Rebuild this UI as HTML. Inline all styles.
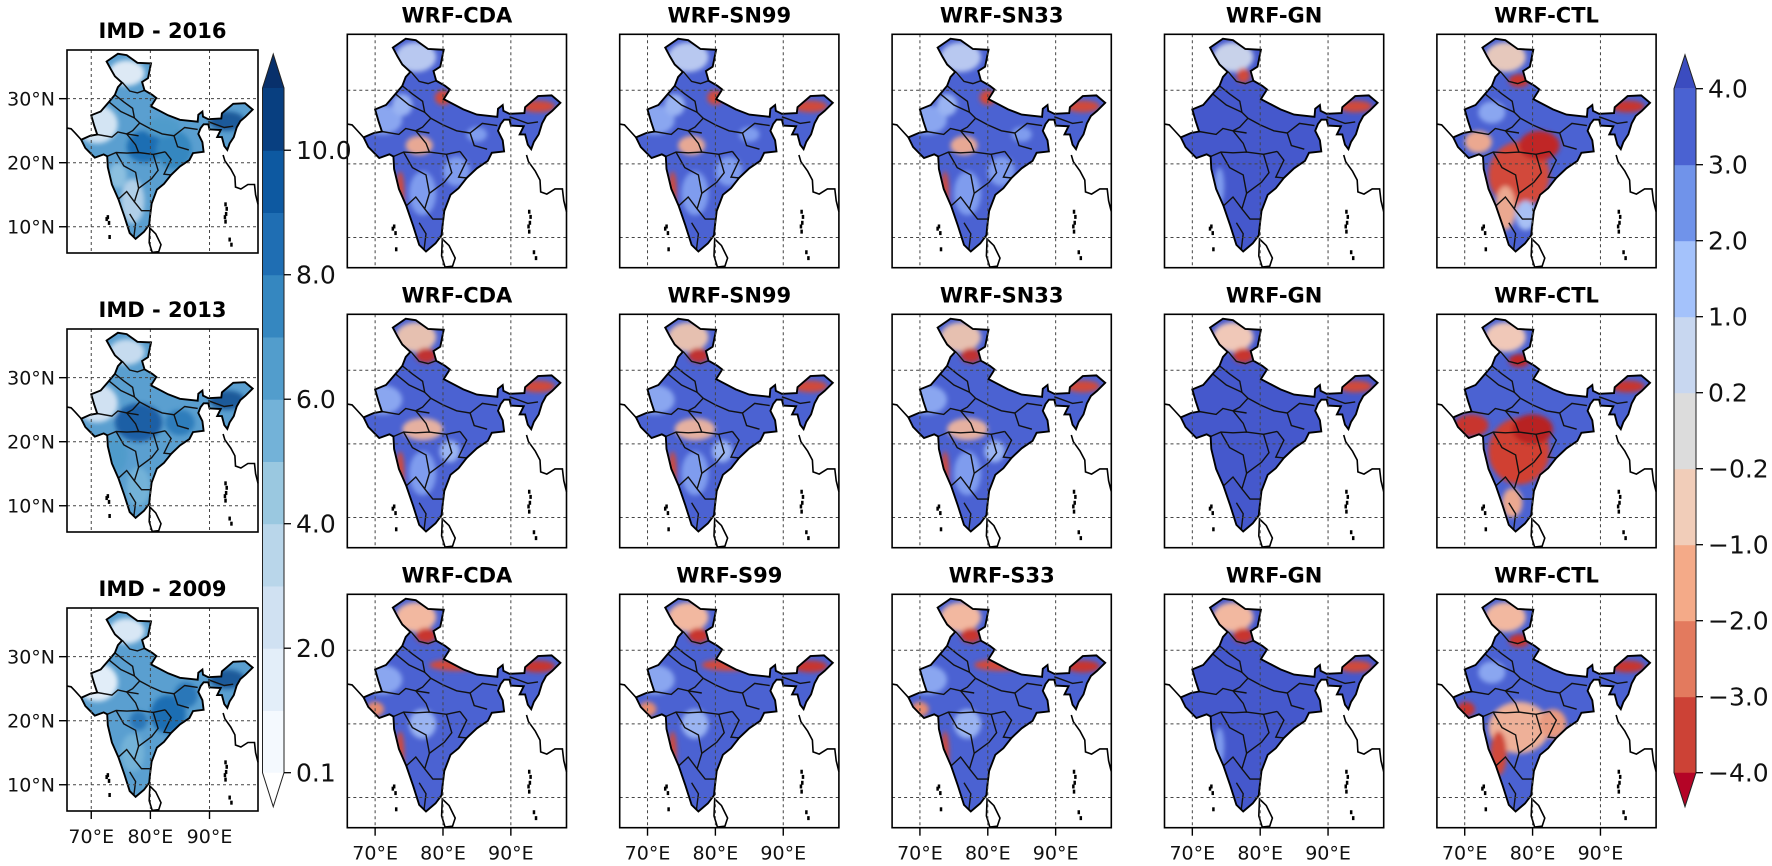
<!DOCTYPE html>
<html><head><meta charset="utf-8">
<style>
html,body{margin:0;padding:0;background:#fff;}
svg{display:block;font-family:"DejaVu Sans","Liberation Sans",sans-serif;}
</style></head>
<body>
<svg id="fig" width="1772" height="866" viewBox="0 0 1772 866" xmlns="http://www.w3.org/2000/svg">
<defs>
<filter id="soft" x="-20%" y="-20%" width="140%" height="140%"><feGaussianBlur stdDeviation="2.5"/></filter>
</defs>
</svg>
<script>
// ---------- data ----------
const imdTitles = ["IMD - 2016", "IMD - 2013", "IMD - 2009"];
const wrfTitles = [
  ["WRF-CDA","WRF-SN99","WRF-SN33","WRF-GN","WRF-CTL"],
  ["WRF-CDA","WRF-SN99","WRF-SN33","WRF-GN","WRF-CTL"],
  ["WRF-CDA","WRF-S99","WRF-S33","WRF-GN","WRF-CTL"]
];
const lonTicks = [70, 80, 90];
const latTicks = [30, 20, 10];
const blueLevels = [0.1,1,2,3,4,5,6,7,8,9,10,11];
const blueColors = ["#f4f9fe","#e3eef9","#d0e1f2","#b9d6ea","#9ac8e0","#73b2d8","#529dcc","#3587c0","#1f6eb3","#0d59a1","#083f80"];
const blueTickVals = [0.1,2,4,6,8,10];
const blueTickLabels = ["0.1","2.0","4.0","6.0","8.0","10.0"];
const divLevels = [-4,-3,-2,-1,-0.2,0.2,1,2,3,4];
const divColors = ["#cc4236","#e37a5e","#f4aa88","#f1cdb9","#dcdcdc","#c8d7f0","#a4c2fb","#7093ea","#4a62d2"];
const divTickLabels = ["\u22124.0","\u22123.0","\u22122.0","\u22121.0","\u22120.2","0.2","1.0","2.0","3.0","4.0"];

const india = [[72.6,35.8],[74.5,37.0],[76,36.8],[77.8,35.6],[80.1,35.5],[79.6,33.2],[78.6,32.6],[79.0,31.3],[80.3,30.6],[81.0,30.1],[80.1,28.8],[83,27.4],[85,26.7],[88,26.4],[88.1,27.5],[88.8,28.0],[88.9,27.2],[89.8,26.8],[92,26.9],[92.1,27.7],[94,29.2],[96,29.3],[97.3,28.3],[96.1,27.2],[95.2,26.5],[94.6,25.5],[94.1,24.0],[93.4,23.0],[93.0,22.0],[92.5,22.6],[92.1,24.0],[91.3,24.0],[91.9,25.1],[90,25.2],[89.8,26.0],[89,26.0],[88.5,25.4],[88.1,24.5],[88.8,23.2],[89,21.7],[87.2,21.5],[86.6,20.4],[85,19.4],[83.5,18.1],[82.3,16.7],[81.1,15.8],[80.2,13.6],[79.9,11.3],[79.8,10.3],[78.9,9.2],[77.5,8.1],[76.5,9.0],[75.6,11.6],[74.6,14.3],[73.5,16.6],[72.8,19.3],[72.7,21.0],[72.1,21.3],[70.6,20.8],[69.0,22.3],[68.3,23.6],[69.8,24.2],[71.0,24.4],[70.5,25.8],[70.0,27.4],[71.6,28.0],[73.0,29.5],[74.0,30.6],[74.5,31.8],[75.2,32.5],[74.0,33.5],[73.3,34.6]];
const pakCoast = [[68.3,23.6],[67.3,24.6],[66.6,25.3],[65.9,25.4]];
const myanmar = [[92.3,21.2],[92.6,20.3],[93.6,19.0],[94.3,17.8],[94.4,16.2],[95.3,15.9],[96.5,16.6],[97.6,16.6],[97.8,15.0],[98.2,13.5]];
const srilanka = [[79.9,9.8],[80.9,8.9],[81.8,7.2],[81.4,6.1],[80.3,6.0],[79.8,7.5],[79.9,9.8]];
const islands = [[92.7,13.5],[92.9,12.8],[92.8,12.0],[92.6,11.5],[92.7,10.8],[93.4,8.0],[93.7,7.2],[72.6,11.2],[73.0,10.6],[72.8,11.5],[73.1,8.4]];
const states = [
 [[75.3,32.5],[76.5,31.2],[77.8,30.9],[79.0,31.3]],
 [[74.0,30.6],[75.5,29.5],[77.0,28.5],[77.3,27.0],[78.2,26.2]],
 [[71.0,24.4],[73.5,24.0],[74.5,24.8],[76.0,24.5],[78.0,24.2]],
 [[72.7,21.0],[74.2,21.6],[76.0,21.5],[78.0,21.6],[80.5,21.3],[82.5,21.7]],
 [[78.2,26.2],[80.0,25.3],[82.0,24.5],[84.0,24.2],[84.6,22.5],[86.5,22.0]],
 [[80.5,21.3],[81.3,18.8],[80.2,17.5],[78.0,16.0],[77.3,13.9],[78.5,12.5],[79.9,12.5]],
 [[74.6,14.3],[76.0,15.5],[77.3,13.9]],
 [[76.5,12.0],[77.5,10.5],[77.2,8.3]],
 [[84.0,24.2],[85.8,25.5],[88.0,25.2]],
 [[89.8,26.4],[91,26.0],[92.5,25.5],[94.0,25.7]],
 [[74.2,21.6],[75.5,19.5],[77.5,18.5],[78.0,16.0]],
 [[82.5,21.7],[83.5,20.5],[82.3,18.2],[83.5,18.1]],
 [[76.0,24.5],[77.5,22.8],[78.0,21.6]],
 [[78.2,26.2],[77.0,25.0],[76.0,24.5]],
 [[73.0,29.5],[75.0,28.0],[77.3,27.0]]
];
// colour patches per panel type: [lon, lat, rx(deg), ry(deg), colour]
const patchesIMD = [
 [[71,26,3.5,3,"#d3e4f3"],[76,34,3,2,"#dde9f5"],[77,14,2,3.5,"#b0cfe8"],[79,22.5,3,2.5,"#1f6eb3"],[84,22,3,3,"#3587c0"],[93,26.5,3,1.5,"#1f5a9a"],[82,25.5,3,1.5,"#4f9bcb"],[74.5,18,1.5,2,"#8cc0e0"]],
 [[71,26,3.5,3,"#d0e1f2"],[78,23,4,3,"#1a5fa5"],[74,18,2,3,"#4f9bcb"],[93,26.5,3,1.5,"#1f5a9a"],[76,34,3,2,"#c6dbef"],[78,13,2,3,"#73b2d8"],[85,23,2.5,2,"#2e7dbb"]],
 [[71,26,3.5,3,"#e1edf8"],[76,34,3,2,"#d8e7f5"],[83,21,3,3,"#1f6eb3"],[86,24,2,2,"#2a77b8"],[93,26.5,3,1.5,"#1f5a9a"],[77,15,2,3,"#73b2d8"],[78,20,1.5,1.5,"#2a77b8"]]
];
const patchesWRF = [
 [[76,34.5,3,2,"#b8c8f0"],[71,26,3,2,"#8aa6f0"],[76.5,22.5,2,1.3,"#e7a894"],[77,16,2,3,"#7f9cee"],[73.7,16,0.6,3,"#d04a3a"],[82,19,2,2,"#7f9cee"],[80,29,1.2,1,"#d04a3a"],[94,27.8,2.5,0.8,"#d04a3a"],[74,28,1.5,1.5,"#9ab4f2"],[85,24,1.5,1,"#7f9cee"]],
 [[76,34.5,3,2,"#e6c0b0"],[77.5,32,1.5,1,"#c03030"],[71,26,3,2,"#8aa6f0"],[77,22,3,1.5,"#e5b0a0"],[77,16,2,3,"#7f9cee"],[73.7,16,0.6,3,"#d04a3a"],[94,27.8,2.5,0.8,"#d04a3a"],[81,19,1.5,1.5,"#9ab4f2"]],
 [[76,34.5,3,2,"#f2b8a0"],[77.5,32,1.5,1,"#c8342e"],[82,28,4,0.8,"#d24a3a"],[71,26,3,2,"#8aa6f0"],[70,22,1.3,1,"#e58a70"],[77,20,2,2,"#9ab4f2"],[73.7,16,0.6,3,"#d04a3a"],[94,27.8,2.5,0.8,"#c8342e"]]
];
const patchesGN = [
 [[76,34.5,3,2,"#c8d2ea"],[77.5,32,1,1,"#d04a3a"],[94,27.8,2.5,0.8,"#d04a3a"],[74,17,0.7,2.5,"#7f9cee"]],
 [[76,34.5,3,2,"#f0c8b8"],[77.5,32,1.5,1,"#c8342e"],[94,27.8,2.5,0.8,"#d04a3a"]],
 [[76,34.5,3,2,"#f2b8a0"],[77.5,32,1.5,1,"#c8342e"],[94,27.8,2.5,0.8,"#d04a3a"],[74,17,0.7,2.5,"#7f9cee"]]
];
const patchesCTL = [
 [[76,34.5,3,2,"#e6c8bc"],[78,31.3,1.5,0.9,"#c8342e"],[78,18.5,4.5,4.5,"#d24a3a"],[81,22.5,3,2,"#c02828"],[76,14,1.5,3,"#eba890"],[79,13,1.5,2,"#a8c0f4"],[72,23,2,1.5,"#eba890"],[94,27.8,2.5,0.8,"#c8342e"],[74,27,2,1.5,"#8aa6f0"]],
 [[76,34.5,3,2,"#f0c8b8"],[78,31.3,1.5,0.9,"#c02828"],[78,19,4.5,4.5,"#d04030"],[80,22,3,2,"#b82222"],[71,22.5,2.5,1.5,"#c8342e"],[77,12,1.5,2,"#eba890"],[94,27.8,2.5,0.8,"#c8342e"]],
 [[76,34.5,3,2,"#f2b8a0"],[78,31.3,1.5,0.9,"#c8342e"],[78,19.5,4.5,3.5,"#eeb098"],[75,16,1.2,3,"#d04a3a"],[70.2,22,1.3,1,"#c8342e"],[83,20,2,2,"#e89a80"],[94,27.8,2.5,0.8,"#c8342e"],[74,27,2,1.5,"#8aa6f0"]]
];

// ---------- geometry ----------
const LON0=65.9, LON1=98.2, LAT0=5.9, LAT1=37.6;
const svg=document.getElementById('fig');
const NS='http://www.w3.org/2000/svg';
function el(tag, attrs, parent){const e=document.createElementNS(NS,tag);for(const k in attrs)e.setAttribute(k,attrs[k]);(parent||svg).appendChild(e);return e;}
function mkScale(px){return {x:lon=>px.x+(lon-LON0)/(LON1-LON0)*px.w, y:lat=>px.y+(LAT1-lat)/(LAT1-LAT0)*px.h};}
function pathOf(pts,s,close){return pts.map((p,i)=>(i?'L':'M')+s.x(p[0]).toFixed(1)+','+s.y(p[1]).toFixed(1)).join('')+(close?'Z':'');}
let clipId=0;

function drawPanel(px, base, patches, title, showLat, showLon){
  const s=mkScale(px);
  const g=el('g',{});
  
  
  const t=el('text',{x:px.x+px.w/2,y:px.y-12,'text-anchor':'middle','font-size':'21','font-weight':'bold',fill:'#000'},g);
  t.textContent=title;
  
  
  const cid='c'+(clipId++);
  const cp=el('clipPath',{id:cid},svg.querySelector('defs'));
  el('path',{d:pathOf(india,s,true)},cp);
  const land=el('g',{'clip-path':'url(#'+cid+')'},g);
  
  
  el('path',{d:pathOf(india,s,true),fill:base},land);
  const pg=el('g',{filter:'url(#soft)'},land);
  patches.forEach(p=>{
    const kx=px.w/(LON1-LON0), ky=px.h/(LAT1-LAT0);
    el('ellipse',{cx:s.x(p[0]),cy:s.y(p[1]),rx:p[2]*kx,ry:p[3]*ky,fill:p[4]},pg);
  });
  states.forEach(st=>{el('path',{d:pathOf(st,s,false),fill:'none',stroke:'#111','stroke-width':1.4},g);});
  el('path',{d:pathOf(india,s,true),fill:'none',stroke:'#000','stroke-width':1.9},g);
  el('path',{d:pathOf(pakCoast,s,false),fill:'none',stroke:'#000','stroke-width':1.6},g);
  el('path',{d:pathOf(myanmar,s,false),fill:'none',stroke:'#000','stroke-width':1.6},g);
  el('path',{d:pathOf(srilanka,s,true),fill:'#fff',stroke:'#000','stroke-width':1.6},g);
  islands.forEach(p=>el('rect',{x:s.x(p[0])-1.2,y:s.y(p[1])-2,width:2.5,height:4,fill:'#000'},g));
  lonTicks.forEach(l=>el('line',{x1:s.x(l),x2:s.x(l),y1:px.y,y2:px.y+px.h,stroke:'#444','stroke-width':1,'stroke-dasharray':'3,3'},g));
  latTicks.forEach(l=>el('line',{x1:px.x,x2:px.x+px.w,y1:s.y(l),y2:s.y(l),stroke:'#444','stroke-width':1,'stroke-dasharray':'3,3'},g));
  const fr=el('rect',{x:px.x,y:px.y,width:px.w,height:px.h,fill:'none',stroke:'#000','stroke-width':1.6},g);
  
  
  if(showLat){latTicks.forEach(l=>{
    el('line',{x1:px.x-8,x2:px.x,y1:s.y(l),y2:s.y(l),stroke:'#000','stroke-width':1.4},g);
    const tx=el('text',{x:px.x-12,y:s.y(l)+7,'text-anchor':'end','font-size':'19',fill:'#111'},g);
    tx.textContent=l+'\u00B0N';
    
    
  });}
  if(showLon){lonTicks.forEach(l=>{
    el('line',{x1:s.x(l),x2:s.x(l),y1:px.y+px.h,y2:px.y+px.h+8,stroke:'#000','stroke-width':1.4},g);
    const tx=el('text',{x:s.x(l),y:px.y+px.h+32,'text-anchor':'middle','font-size':'19',fill:'#111'},g);
    tx.textContent=l+'\u00B0E';
    
    
  });}
}

const imdTops=[50,329,608];
imdTitles.forEach((tt,r)=>drawPanel({x:67,y:imdTops[r],w:191,h:203},'#5a9fd0',patchesIMD[r],tt,true,r===2));
wrfTitles.forEach((row,r)=>row.forEach((tt,c)=>{
  const px={x:347.3+c*272.4,y:34.3+r*280,w:219.2,h:233.4};
  let p=patchesWRF[r], base='#4b62d2';
  if(c===3){p=patchesGN[r];base='#4558cc';}
  if(c===4){p=patchesCTL[r];base='#4b62d2';}
  drawPanel(px,base,p,tt,false,r===2);
}));

function colorbar(x, w, top, bot, levels, colors, lowExt, highExt, tickVals, tickLabels, name){
  const g=el('g',{});
  
  
  const n=levels.length-1, bh=(bot-top)/n;
  const yOf=v=>{
    for(let i=0;i<n;i++){if(v<=levels[i+1]){return bot-(i+(v-levels[i])/(levels[i+1]-levels[i]))*bh;}}
    return top;};
  colors.forEach((c,i)=>{
    const r=el('rect',{x:x,y:yOf(levels[i+1]),width:w,height:bh+0.5,fill:c},g);
    
    
  });
  el('polygon',{points:`${x},${top} ${x+w},${top} ${x+w/2},${top-34}`,fill:highExt},g);
  el('polygon',{points:`${x},${bot} ${x+w},${bot} ${x+w/2},${bot+34}`,fill:lowExt},g);
  el('polygon',{points:`${x},${top} ${x+w/2},${top-34} ${x+w},${top} ${x+w},${bot} ${x+w/2},${bot+34} ${x},${bot}`,fill:'none',stroke:'#222','stroke-width':1},g);
  tickVals.forEach((v,i)=>{
    const y=yOf(v);
    el('line',{x1:x+w,x2:x+w+7,y1:y,y2:y,stroke:'#000','stroke-width':1.3},g);
    const t=el('text',{x:x+w+12,y:y+9,'font-size':'25',fill:'#111'},g);
    t.textContent=tickLabels[i];
    
    
  });
}
colorbar(262.5,21.5,88,772.7,blueLevels,blueColors,'#ffffff','#08306b',blueTickVals,blueTickLabels,'rainfall-colorbar');
colorbar(1674,22,88.7,772.7,divLevels,divColors,'#b40426','#3b4cc0',divLevels,divTickLabels,'bias-colorbar');
</script>
</body></html>
